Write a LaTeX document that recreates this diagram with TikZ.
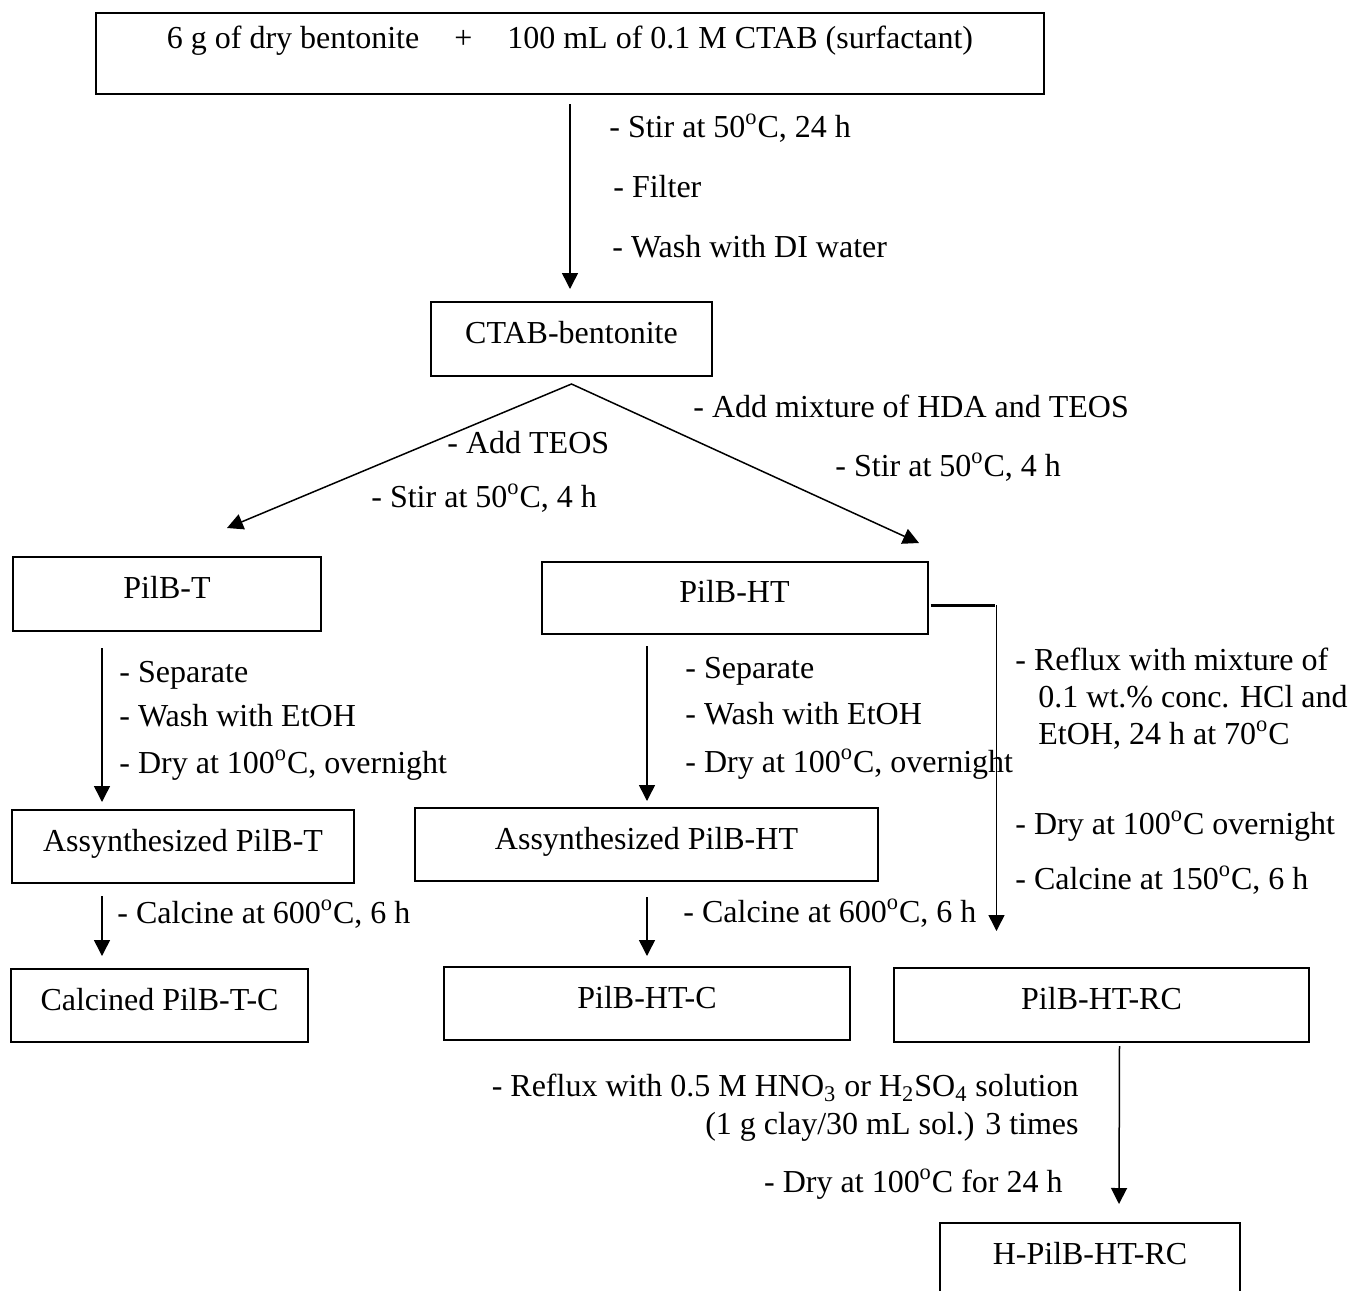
\documentclass[tikz,border=0pt]{standalone}
\usepackage{fontspec}
\setmainfont{Liberation Serif}
\usetikzlibrary{arrows.meta,positioning,calc}
\newcommand{\degC}{\textsuperscript{o}C}

\begin{document}
\begin{tikzpicture}[x=0.5pt, y=-0.5pt, font=\fontsize{16}{19}\selectfont,
  box/.style={draw, line width=1pt, inner sep=0pt, text height=11pt, text depth=6.4pt},
  e/.style={-{Triangle[length=8pt,width=8pt]}, line width=0.75pt},
  ee/.style={{Triangle[length=8pt,width=8pt]}-{Triangle[length=8pt,width=8pt]}, line width=0.75pt},
  note/.style={anchor=base west, inner sep=0pt},
  noter/.style={anchor=base east, inner sep=0pt}]
\useasboundingbox (0,0) rectangle (1351,1291);
% boxes
\node[box, minimum width=474pt, minimum height=40.5pt, text depth=15.9pt] (mix) at (570,53.5)
  {6 g of dry bentonite\hspace{17.5pt}+\hspace{17.5pt}100 mL of 0.1 M CTAB (surfactant)};
\node[box, minimum width=140.5pt, minimum height=37pt] (ctab) at (571.5,339) {CTAB-bentonite};
\node[box, minimum width=154pt, minimum height=37pt] (pilbt) at (167,594) {PilB-T};
\node[box, minimum width=193pt, minimum height=36pt] (pilbht) at (734.5,598) {PilB-HT};
\node[box, minimum width=171pt, minimum height=36.5pt] (asynt) at (183,846.5) {Assynthesized PilB-T};
\node[box, minimum width=231.5pt, minimum height=36.5pt] (asynht) at (646.5,844.5) {Assynthesized PilB-HT};
\node[box, minimum width=148.5pt, minimum height=36.5pt] (calct) at (159.5,1005.5) {Calcined PilB-T-C};
\node[box, minimum width=203pt, minimum height=36.5pt] (pilbhtc) at (647,1003.5) {PilB-HT-C};
\node[box, minimum width=207.5pt, minimum height=37pt] (pilbhtrc) at (1101.5,1005) {PilB-HT-RC};
\node[box, minimum width=150pt, minimum height=36.5pt] (hpilb) at (1090,1259.5) {H-PilB-HT-RC};

% step notes
\node[note] (stirA) at (609,137.5) {- Stir at 50\degC, 24 h};
\node[note] (filt) at (613,197) {- Filter};
\node[note] (washDI) at (612,257) {- Wash with DI water};
\node[note] (addHT) at (693,417.5) {- Add mixture of HDA and TEOS};
\node[note] (stirHT) at (835,476.5) {- Stir at 50\degC, 4 h};
\node[note] (addT) at (447,453.5) {- Add TEOS};
\node[note] (stirT) at (371,507.5) {- Stir at 50\degC, 4 h};
\node[note] (sepT) at (119,682) {- Separate};
\node[note] (washT) at (119,726.5) {- Wash with EtOH};
\node[note] (dryT) at (119,773.5) {- Dry at 100\degC, overnight};
\node[note] (sepHT) at (685,678.5) {- Separate};
\node[note] (washHT) at (685,724) {- Wash with EtOH};
\node[note] (dryHT) at (685,772.5) {- Dry at 100\degC, overnight};
\node[note] (reflA) at (1015,670.5) {- Reflux with mixture of};
\node[note] (reflB) at (1038,707.5) {0.1 wt.\% conc. HCl and};
\node[note] (reflC) at (1038,744) {EtOH, 24 h at 70\degC};
\node[note] (dryRC) at (1015,834) {- Dry at 100\degC{} overnight};
\node[note] (calcRC) at (1015,889) {- Calcine at 150\degC, 6 h};
\node[note] (calcT) at (117,923) {- Calcine at 600\degC, 6 h};
\node[note] (calcHT) at (683,922.5) {- Calcine at 600\degC, 6 h};
\node[noter] (acidA) at (1079,1096.5) {- Reflux with 0.5 M HNO\textsubscript{3} or H\textsubscript{2}SO\textsubscript{4} solution};
\node[noter] (acidB) at (1079,1134.5) {(1 g clay/30 mL sol.) 3 times};
\node[noter] (dryH) at (1063,1192.5) {- Dry at 100\degC{} for 24 h};

% connectors
\draw[e] ([yshift=-4.5pt]mix.south) -- ([yshift=6pt]mix.south |- ctab.north);
\coordinate (fork) at ([yshift=-3.5pt]ctab.south);
\coordinate (tipT) at (227,528);
\coordinate (tipHT) at (919,543);
\draw[ee] (tipT) -- (fork) -- (tipHT);
\draw[e] ([xshift=45pt,yshift=-8pt]pilbt.south west) -- ([xshift=45.5pt,yshift=3.5pt]asynt.north west);
\draw[e] ([xshift=53.25pt,yshift=-5.5pt]pilbht.south west) -- ([xshift=116.5pt,yshift=3pt]asynht.north west);
\draw[e] ([xshift=45.5pt,yshift=-6pt]asynt.south west) -- ([xshift=46pt,yshift=6pt]calct.north west);
\draw[e] ([xshift=116.5pt,yshift=-7.5pt]asynht.south west) -- ([xshift=102pt,yshift=5pt]pilbhtc.north west);
\draw[line width=1.5pt] ([xshift=1pt,yshift=-3.5pt]pilbht.east) -- ++(64,0) coordinate (elbow);
\draw[e] ([xshift=1pt]elbow) -- ([xshift=1pt,yshift=18pt]elbow |- pilbhtrc.north);
\draw[e] ([xshift=9pt,yshift=-1.5pt]pilbhtrc.south) -- ([xshift=14.5pt,yshift=9pt]hpilb.north);
\end{tikzpicture}
\end{document}
